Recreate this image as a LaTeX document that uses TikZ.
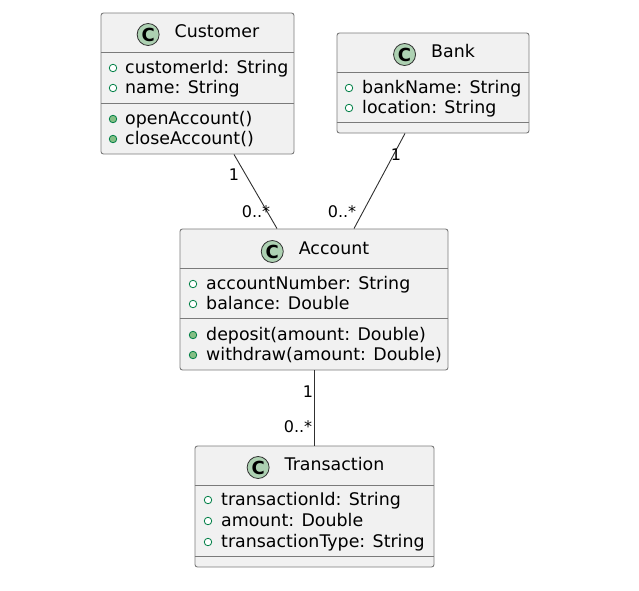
\documentclass[tikz,border=0pt]{standalone}
\usepackage{fontspec}
\setmainfont{DejaVu Sans}
\usetikzlibrary{positioning}

\definecolor{boxfill}{HTML}{F1F1F1}
\definecolor{boxline}{HTML}{7A7A7A}
\definecolor{iconfill}{HTML}{ADD1B2}
\definecolor{visline}{HTML}{038048}
\definecolor{visfill}{HTML}{84BE84}
\definecolor{edgeline}{HTML}{303030}

\tikzset{
  classbox/.style={rectangle, draw=boxline, fill=boxfill, line width=0.9pt, rounded corners=2.5pt, inner sep=0pt},
  sepline/.style={draw=boxline, line width=0.9pt},
  classtitle/.style={inner sep=0pt, yshift=-2.5pt, text height=11.5pt, text depth=5pt, font=\fontsize{17.4}{20}\selectfont},
  cicon/.style={circle, draw=edgeline, fill=iconfill, line width=0.8pt, minimum size=22pt, inner sep=0pt, font=\fontsize{18}{20}\selectfont\bfseries},
  member/.style={anchor=west, inner sep=0pt, yshift=-2.5pt, text height=11.5pt, text depth=5pt, font=\fontsize{17.4}{20}\selectfont},
  attrvis/.style={circle, draw=visline, fill=white, line width=0.8pt, minimum size=7.5pt, inner sep=0pt},
  methvis/.style={circle, draw=visline, fill=visfill, line width=0.8pt, minimum size=7.5pt, inner sep=0pt},
  assoc/.style={draw=edgeline, line width=0.9pt},
  mult/.style={inner sep=0pt, yshift=-1.5pt, font=\fontsize{16}{18}\selectfont}
}

\begin{document}
\begin{tikzpicture}[x=1pt, y=-1pt]
  \useasboundingbox (0,0) rectangle (639,590);

  %class boxes
  \node[classbox, minimum width=193pt, minimum height=141pt] (customer) at (197.5,83.5) {};
  \node[classbox, minimum width=192pt, minimum height=100pt] (bank) at (433,83) {};
  \node[classbox, minimum width=268pt, minimum height=141pt] (account) at (314,299.5) {};
  \node[classbox, minimum width=239pt, minimum height=121pt] (transaction) at (314.5,506.5) {};

  %separators
  \draw[sepline] ([yshift=-40pt]customer.north west) -- ([yshift=-40pt]customer.north east);
  \draw[sepline] ([yshift=-91pt]customer.north west) -- ([yshift=-91pt]customer.north east);
  \draw[sepline] ([yshift=-40pt]bank.north west) -- ([yshift=-40pt]bank.north east);
  \draw[sepline] ([yshift=-90pt]bank.north west) -- ([yshift=-90pt]bank.north east);
  \draw[sepline] ([yshift=-40pt]account.north west) -- ([yshift=-40pt]account.north east);
  \draw[sepline] ([yshift=-90pt]account.north west) -- ([yshift=-90pt]account.north east);
  \draw[sepline] ([yshift=-40pt]transaction.north west) -- ([yshift=-40pt]transaction.north east);
  \draw[sepline] ([yshift=-111pt]transaction.north west) -- ([yshift=-111pt]transaction.north east);

  %titles
  \node[classtitle] (customer-t) at (217,32) {Customer};
  \node[cicon, left=15pt of customer-t] (customer-c) {C};
  \node[classtitle] (bank-t) at (453,52) {Bank};
  \node[cicon, left=15pt of bank-t] (bank-c) {C};
  \node[classtitle] (account-t) at (334,249) {Account};
  \node[cicon, left=15pt of account-t] (account-c) {C};
  \node[classtitle] (transaction-t) at (334.5,465) {Transaction};
  \node[cicon, left=15pt of transaction-t] (transaction-c) {C};

  %members
  \foreach \t [count=\i] in {customerId: String, name: String} {
    \node[attrvis] (customer-av\i) at (113,48+20*\i) {};
    \node[member] (customer-a\i) at (125,48+20*\i) {\t};
  }
  \foreach \t [count=\i] in {openAccount(), closeAccount()} {
    \node[methvis] (customer-mv\i) at (113,99+20*\i) {};
    \node[member] (customer-m\i) at (125,99+20*\i) {\t};
  }
  \foreach \t [count=\i] in {bankName: String, location: String} {
    \node[attrvis] (bank-av\i) at (349,68+20*\i) {};
    \node[member] (bank-a\i) at (362,68+20*\i) {\t};
  }
  \foreach \t [count=\i] in {accountNumber: String, balance: Double} {
    \node[attrvis] (account-av\i) at (193,264+20*\i) {};
    \node[member] (account-a\i) at (206,264+20*\i) {\t};
  }
  \foreach \t [count=\i] in {deposit(amount: Double), withdraw(amount: Double)} {
    \node[methvis] (account-mv\i) at (193,315+20*\i) {};
    \node[member] (account-m\i) at (206,315+20*\i) {\t};
  }
  \foreach \t [count=\i] in {transactionId: String, amount: Double, transactionType: String} {
    \node[attrvis] (transaction-av\i) at (208,479+21*\i) {};
    \node[member] (transaction-a\i) at (221,479+21*\i) {\t};
  }

  %edges
  \draw[assoc] ([xshift=36.5pt]customer.south) -- ([xshift=-37pt]account.north);
  \draw[assoc] ([xshift=-28pt]bank.south) -- ([xshift=40pt]account.north);
  \draw[assoc] (account.south) -- (transaction.north -| account.south);

  %multiplicities
  \node[mult] (m-cust) at (234,173) {1};
  \node[mult] (m-acc1) at (256,210) {0..*};
  \node[mult] (m-bank) at (396,153) {1};
  \node[mult] (m-acc2) at (342,210) {0..*};
  \node[mult] (m-acc3) at (308,390) {1};
  \node[mult] (m-tran) at (298,425) {0..*};
\end{tikzpicture}
\end{document}
